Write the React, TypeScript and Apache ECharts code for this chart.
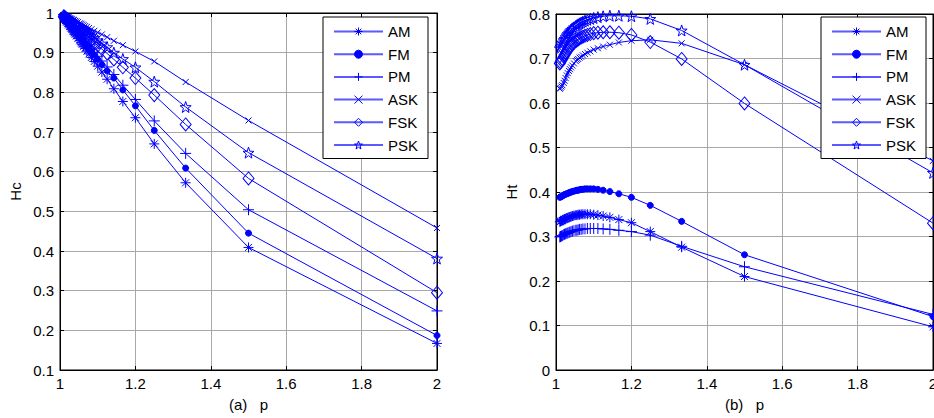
import React, { useEffect, useRef } from "react";
import * as echarts from "echarts";

// p values (x axis), shared by every series
const pValues = [2, 1.5, 1.3333, 1.25, 1.2, 1.1667, 1.1429, 1.125, 1.1111, 1.1, 1.0909, 1.0833, 1.0769, 1.0714, 1.0667, 1.0625, 1.0588, 1.0556, 1.0526, 1.0476, 1.0435, 1.04, 1.037, 1.0345, 1.0313, 1.0286, 1.0256, 1.0227, 1.0204, 1.0169, 1.0145, 1.0119, 1.0101];

// (a) Hc
const hcAM = [0.167, 0.409, 0.572, 0.670, 0.736, 0.777, 0.809, 0.833, 0.851, 0.866, 0.878, 0.888, 0.897, 0.904, 0.911, 0.916, 0.921, 0.925, 0.930, 0.936, 0.942, 0.946, 0.950, 0.954, 0.958, 0.962, 0.966, 0.970, 0.973, 0.977, 0.981, 0.984, 0.986];
const hcFM = [0.187, 0.445, 0.609, 0.704, 0.766, 0.806, 0.836, 0.854, 0.870, 0.883, 0.894, 0.903, 0.910, 0.916, 0.922, 0.927, 0.931, 0.935, 0.938, 0.944, 0.949, 0.953, 0.957, 0.960, 0.963, 0.967, 0.970, 0.973, 0.976, 0.980, 0.983, 0.986, 0.988];
const hcPM = [0.249, 0.504, 0.646, 0.728, 0.782, 0.818, 0.845, 0.864, 0.879, 0.891, 0.901, 0.909, 0.916, 0.922, 0.927, 0.932, 0.936, 0.939, 0.943, 0.948, 0.953, 0.956, 0.960, 0.962, 0.966, 0.969, 0.972, 0.975, 0.978, 0.982, 0.984, 0.987, 0.989];
const hcASK = [0.458, 0.729, 0.826, 0.878, 0.903, 0.919, 0.930, 0.939, 0.946, 0.951, 0.955, 0.959, 0.962, 0.965, 0.967, 0.969, 0.971, 0.973, 0.974, 0.977, 0.979, 0.980, 0.982, 0.983, 0.985, 0.986, 0.987, 0.989, 0.990, 0.992, 0.993, 0.994, 0.995];
const hcFSK = [0.295, 0.583, 0.719, 0.793, 0.836, 0.863, 0.883, 0.898, 0.909, 0.918, 0.925, 0.932, 0.937, 0.941, 0.945, 0.949, 0.952, 0.954, 0.957, 0.961, 0.964, 0.967, 0.970, 0.972, 0.974, 0.977, 0.979, 0.981, 0.983, 0.986, 0.988, 0.990, 0.992];
const hcPSK = [0.381, 0.648, 0.763, 0.827, 0.863, 0.884, 0.900, 0.914, 0.923, 0.931, 0.937, 0.943, 0.947, 0.951, 0.954, 0.957, 0.959, 0.962, 0.964, 0.967, 0.970, 0.972, 0.974, 0.976, 0.978, 0.980, 0.982, 0.984, 0.986, 0.988, 0.990, 0.992, 0.993];

// (b) Ht
const htAM = [0.097, 0.210, 0.276, 0.311, 0.331, 0.338, 0.343, 0.346, 0.348, 0.349, 0.350, 0.350, 0.350, 0.350, 0.350, 0.349, 0.349, 0.348, 0.348, 0.347, 0.346, 0.345, 0.344, 0.343, 0.342, 0.341, 0.340, 0.339, 0.338, 0.336, 0.335, 0.334, 0.333];
const htFM = [0.120, 0.259, 0.334, 0.370, 0.388, 0.396, 0.401, 0.404, 0.406, 0.407, 0.407, 0.407, 0.407, 0.406, 0.406, 0.405, 0.404, 0.404, 0.403, 0.402, 0.401, 0.400, 0.399, 0.398, 0.397, 0.396, 0.395, 0.394, 0.393, 0.391, 0.390, 0.389, 0.388];
const htPM = [0.125, 0.232, 0.278, 0.303, 0.311, 0.314, 0.316, 0.317, 0.318, 0.318, 0.318, 0.318, 0.317, 0.317, 0.316, 0.316, 0.315, 0.314, 0.314, 0.313, 0.312, 0.311, 0.310, 0.309, 0.308, 0.307, 0.306, 0.305, 0.304, 0.302, 0.301, 0.300, 0.299];
const htASK = [0.470, 0.686, 0.734, 0.742, 0.740, 0.736, 0.731, 0.727, 0.723, 0.720, 0.716, 0.713, 0.710, 0.707, 0.704, 0.702, 0.699, 0.697, 0.694, 0.689, 0.684, 0.680, 0.676, 0.672, 0.667, 0.662, 0.656, 0.650, 0.645, 0.640, 0.637, 0.634, 0.632];
const htFSK = [0.330, 0.599, 0.699, 0.737, 0.753, 0.758, 0.759, 0.759, 0.758, 0.757, 0.755, 0.753, 0.751, 0.749, 0.747, 0.745, 0.743, 0.741, 0.739, 0.735, 0.732, 0.729, 0.726, 0.723, 0.719, 0.716, 0.712, 0.708, 0.704, 0.699, 0.696, 0.692, 0.689];
const htPSK = [0.443, 0.686, 0.763, 0.789, 0.795, 0.796, 0.796, 0.795, 0.793, 0.791, 0.789, 0.787, 0.785, 0.783, 0.781, 0.779, 0.777, 0.775, 0.773, 0.770, 0.767, 0.764, 0.761, 0.758, 0.755, 0.752, 0.748, 0.744, 0.741, 0.736, 0.732, 0.727, 0.723];

const seriesNames = ["AM", "FM", "PM", "ASK", "FSK", "PSK"];
const hcSeries = [hcAM, hcFM, hcPM, hcASK, hcFSK, hcPSK];
const htSeries = [htAM, htFM, htPM, htASK, htFSK, htPSK];

const BLUE = "#0000ff";
const FONT = "'Liberation Sans', Arial, sans-serif";
const CLEAR = "rgba(0,0,0,0)";

const markers: Record<string, any> = {
  AM: { symbol: "path://M5,0L5,10M0,5L10,5M1.5,1.5L8.5,8.5M1.5,8.5L8.5,1.5", symbolSize: 10, fill: CLEAR },
  FM: { symbol: "circle", symbolSize: 6, fill: BLUE },
  PM: { symbol: "path://M5,0L5,10M0,5L10,5", symbolSize: 11, fill: CLEAR },
  ASK: { symbol: "path://M0,0L10,10M0,10L10,0", symbolSize: 6, fill: CLEAR },
  FSK: { symbol: "path://M0,-6L5,0L0,6L-5,0Z", symbolSize: [11, 13], fill: CLEAR },
  PSK: { symbol: "path://M0,-5L1.18,-1.62L4.76,-1.55L1.9,0.62L2.94,4.05L0,2L-2.94,4.05L-1.9,0.62L-4.76,-1.55L-1.18,-1.62Z", symbolSize: 11, fill: CLEAR },
};

function buildSeries(values: number[][], gi: number) {
  return values.map((vals, k) => {
    const name = seriesNames[k];
    const m = markers[name];
    return {
      type: "line",
      name,
      xAxisIndex: gi,
      yAxisIndex: gi,
      data: pValues.map((p, i) => [p, vals[i]]),
      symbol: m.symbol,
      symbolSize: m.symbolSize,
      showAllSymbol: true,
      itemStyle: { color: m.fill, borderColor: BLUE, borderWidth: 1 },
      lineStyle: { color: BLUE, width: 1 },
      emphasis: { disabled: true },
      silent: true,
    };
  });
}

function xAxes(gi: number, name: string) {
  return [
    {
      type: "value", gridIndex: gi, min: 1, max: 2, interval: 0.2, position: "bottom",
      axisLine: { show: true, onZero: false, lineStyle: { color: "#000" } },
      axisTick: { show: true, inside: true, length: 4, lineStyle: { color: "#000" } },
      axisLabel: { color: "#000", fontSize: 15, fontFamily: FONT, margin: 6 },
      splitLine: { show: true, lineStyle: { color: "#a8a8a8", width: 1 } },
      name, nameLocation: "middle", nameGap: 27,
      nameTextStyle: { color: "#000", fontSize: 15, fontFamily: FONT },
    },
  ];
}

function topAxis(gi: number) {
  return {
    type: "value", gridIndex: gi, min: 1, max: 2, interval: 0.2, position: "top",
    axisLine: { show: true, onZero: false, lineStyle: { color: "#000" } },
    axisTick: { show: true, inside: true, length: 4, lineStyle: { color: "#000" } },
    axisLabel: { show: false }, splitLine: { show: false },
  };
}

function yAxisMain(gi: number, min: number, max: number, name: string) {
  return {
    type: "value", gridIndex: gi, min, max, interval: 0.1, position: "left",
    axisLine: { show: true, onZero: false, lineStyle: { color: "#000" } },
    axisTick: { show: true, inside: true, length: 4, lineStyle: { color: "#000" } },
    axisLabel: { color: "#000", fontSize: 15, fontFamily: FONT, margin: 6 },
    splitLine: { show: true, lineStyle: { color: "#a8a8a8", width: 1 } },
    name, nameLocation: "middle", nameGap: 37,
    nameTextStyle: { color: "#000", fontSize: 15, fontFamily: FONT },
  };
}

function yAxisRight(gi: number, min: number, max: number) {
  return {
    type: "value", gridIndex: gi, min, max, interval: 0.1, position: "right",
    axisLine: { show: true, onZero: false, lineStyle: { color: "#000" } },
    axisTick: { show: true, inside: true, length: 4, lineStyle: { color: "#000" } },
    axisLabel: { show: false }, splitLine: { show: false },
  };
}

function legend(left: number) {
  return {
    data: seriesNames.map((name) => ({
      name,
      itemStyle: { color: markers[name].fill, borderColor: BLUE, borderWidth: 1 },
      lineStyle: { color: "#5a5aff", width: 2 },
    })),
    orient: "vertical",
    left, top: 17,
    itemWidth: 49, itemHeight: 10, itemGap: 7.7,
    padding: [7, 10, 6, 10],
    backgroundColor: "#fff",
    borderColor: "#000", borderWidth: 1, borderRadius: 0,
    selectedMode: false,
    textStyle: { color: "#000", fontSize: 15, fontFamily: FONT },
  };
}

export default function App() {
  const ref = useRef<HTMLDivElement>(null);
  useEffect(() => {
    if (!ref.current) return;
    const chart = echarts.init(ref.current, undefined, { renderer: "svg" });
    chart.setOption({
      animation: false,
      backgroundColor: "#fff",
      grid: [
        { left: 60, top: 13, width: 377, height: 357, show: true, borderColor: "#000", borderWidth: 1, backgroundColor: CLEAR, outerBoundsMode: "none" },
        { left: 556, top: 14, width: 377, height: 356, show: true, borderColor: "#000", borderWidth: 1, backgroundColor: CLEAR, outerBoundsMode: "none" },
      ],
      xAxis: [...xAxes(0, "(a)   p"), ...xAxes(1, "(b)   p"), topAxis(0), topAxis(1)],
      yAxis: [yAxisMain(0, 0.1, 1, "Hc"), yAxisMain(1, 0, 0.8, "Ht"), yAxisRight(0, 0.1, 1), yAxisRight(1, 0, 0.8)],
      legend: [legend(323), legend(821)],
      series: [...buildSeries(hcSeries, 0), ...buildSeries(htSeries, 1)],
    });
    return () => chart.dispose();
  }, []);
  return <div ref={ref} style={{ position: "absolute", left: 0, top: 0, width: 934, height: 418 }} />;
}
